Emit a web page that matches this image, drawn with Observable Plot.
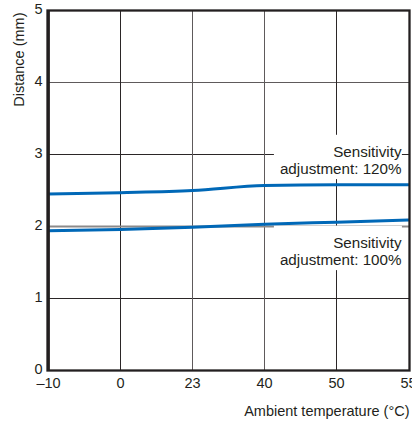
<!DOCTYPE html>
<html><head><meta charset="utf-8">
<script src="https://cdn.jsdelivr.net/npm/d3@7"></script>
<script src="https://cdn.jsdelivr.net/npm/@observablehq/plot@0.6"></script>
<style>body{margin:0;background:#fff}</style>
</head><body><div id="chart"></div>
<script>
// Data
const temps = ["–10", "0", "23", "40", "50", "55"];
const dist120 = [2.45, 2.47, 2.50, 2.57, 2.58, 2.58];
const dist100 = [1.94, 1.96, 1.99, 2.03, 2.06, 2.09];
const seriesNames = ["120%", "100%"];
const labelTexts = ["Sensitivity\nadjustment: 120%", "Sensitivity\nadjustment: 100%"];
const labelY = [2.925, 1.661];
const yTicks = [0, 1, 2, 3, 4, 5];
const xTitle = "Ambient temperature (°C)";
const yTitle = "Distance (mm)";

const rows = [
  ...temps.map((t, i) => ({t, d: dist120[i], s: seriesNames[0]})),
  ...temps.map((t, i) => ({t, d: dist100[i], s: seriesNames[1]}))
];
const labels = labelTexts.map((txt, i) => ({txt, y: labelY[i]}));

const ink = "#231f20";
const font = "'Liberation Sans', Arial, Helvetica, sans-serif";

const chart = Plot.plot({
  width: 412,
  height: 421,
  marginLeft: 47,
  marginRight: 3,
  marginTop: 10,
  marginBottom: 51,
  style: {fontFamily: font, fontSize: "14.5px", color: ink, background: "#fff"},
  x: {type: "point", domain: temps, padding: 0, inset: 0},
  y: {domain: [0, 5], ticks: yTicks, tickFormat: d => String(d)},
  marks: [
    Plot.ruleY([yTicks[1], yTicks[3]], {stroke: "#2b2627", strokeWidth: 1}),
    Plot.ruleY([yTicks[4]], {stroke: "#5e5a5b", strokeWidth: 1}),
    Plot.ruleX([temps[1], temps[4]], {stroke: "#2b2627", strokeWidth: 1}),
    Plot.ruleX([temps[2], temps[3]], {stroke: "#5e5a5b", strokeWidth: 1}),
    Plot.ruleY([yTicks[2]], {stroke: "#8c8a8a", strokeWidth: 2}),
    Plot.line(rows, {x: "t", y: "d", z: "s", stroke: "#0068b7", strokeWidth: 3, curve: "monotone-x"}),
    Plot.text(labels, {
      x: () => temps[temps.length - 1], y: "y", text: "txt",
      textAnchor: "end", lineAnchor: "middle", lineHeight: 1.14,
      dx: -7, fontSize: 15.2, fill: ink
    }),
    Plot.frame({stroke: ink, strokeWidth: 2.3}),
    Plot.ruleX([temps[0]], {stroke: ink, strokeWidth: 2.8}),
    Plot.axisX({tickSize: 0, tickPadding: 7, fontSize: 14.5, label: null, fill: ink}),
    Plot.axisY({ticks: yTicks, tickFormat: d => String(d), tickSize: 0, tickPadding: 5, dy: -1, fontSize: 14.5, label: null, fill: ink}),
    Plot.text([yTitle], {text: d => d, frameAnchor: "top-left", rotate: -90, textAnchor: "end", lineAnchor: "middle", dx: -28, dy: 2, fontSize: 14.5, fill: ink}),
    Plot.text([xTitle], {text: d => d, frameAnchor: "bottom-right", textAnchor: "end", lineAnchor: "middle", dx: 0, dy: 41, fontSize: 14.5, fill: ink})
  ]
});
document.getElementById("chart").append(chart);

// white boxes behind the series labels (as in the reference)
chart.querySelectorAll("text").forEach(t => {
  if (!t.textContent.startsWith("Sensitivity")) return;
  const b = t.getBBox();
  const r = document.createElementNS("http://www.w3.org/2000/svg", "rect");
  r.setAttribute("x", b.x - 6);
  r.setAttribute("y", b.y - 8);
  r.setAttribute("width", b.width + 6);
  r.setAttribute("height", b.height + 10);
  r.setAttribute("fill", "#fff");
  const tr = t.getAttribute("transform");
  if (tr) r.setAttribute("transform", tr);
  t.parentNode.insertBefore(r, t);
});
</script>
</body></html>
